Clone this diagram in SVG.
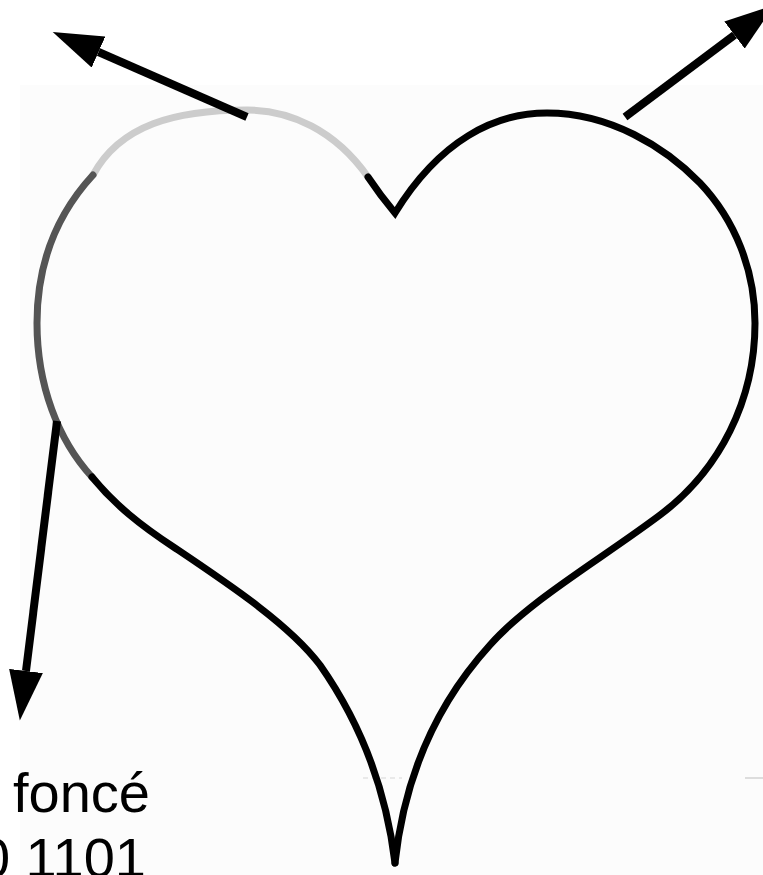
<svg xmlns="http://www.w3.org/2000/svg" width="763" height="875" viewBox="0 0 763 875">
  <style>
    .outline { fill: none; stroke-width: 7; stroke-linecap: round; stroke-linejoin: miter; }
    .black { stroke: #000000; }
    .light { stroke: #cccccc; }
    .dark { stroke: #555555; }
    .arrow { fill: none; stroke: #000000; stroke-width: 8; stroke-linecap: butt; marker-end: url(#head); }
    .label { font-family: "Liberation Sans", Arial, sans-serif; font-size: 56px; fill: #000000; }
  </style>
  <defs>
    <marker id="head" viewBox="0 0 50 34" refX="0" refY="17" markerWidth="50" markerHeight="34" markerUnits="userSpaceOnUse" orient="auto">
      <path d="M0,0 L50,17 L0,34 z" fill="#000000"/>
    </marker>
  </defs>
  <rect x="0" y="0" width="763" height="875" fill="#ffffff"/>
  <rect x="20" y="85" width="743" height="790" fill="#fcfcfc"/>
  <line x1="745" y1="778" x2="763" y2="778" stroke="#dddddd" stroke-width="2"/>
  <line x1="363" y1="778" x2="402" y2="778" stroke="#e2e2e2" stroke-width="1.5" stroke-dasharray="5,4"/>

  <g id="heart">
    <path class="outline light" d="M368,177 C335,130 290,110 247,110 C175,110 120,125 93,175"/>
    <path class="outline dark" d="M93,175 C58,213 37,262 37,323 C37,385 58,440 92,477"/>
    <path class="outline black" d="M92,477 C115,505 140,525 175,548 C230,585 290,625 320,665 C355,715 385,780 395,863"/>
    <path class="outline black" d="M368,177 Q380,195 395,213 C440,140 495,113 547,113 C610,113 665,147 700,183 C735,220 755,270 755,323 C755,400 720,470 660,515 C600,560 530,600 490,645 C440,700 405,770 395,863"/>
  </g>

  <g id="connectors">
    <line class="arrow" x1="247" y1="117" x2="98.5" y2="52"/>
    <line class="arrow" x1="625" y1="117" x2="734.5" y2="35"/>
    <line class="arrow" x1="57" y1="421" x2="26" y2="671"/>
  </g>

  <g id="labels">
    <text class="label" x="13" y="812">foncé</text>
    <text class="label" x="146" y="877" text-anchor="end">0 1101</text>
  </g>
</svg>
